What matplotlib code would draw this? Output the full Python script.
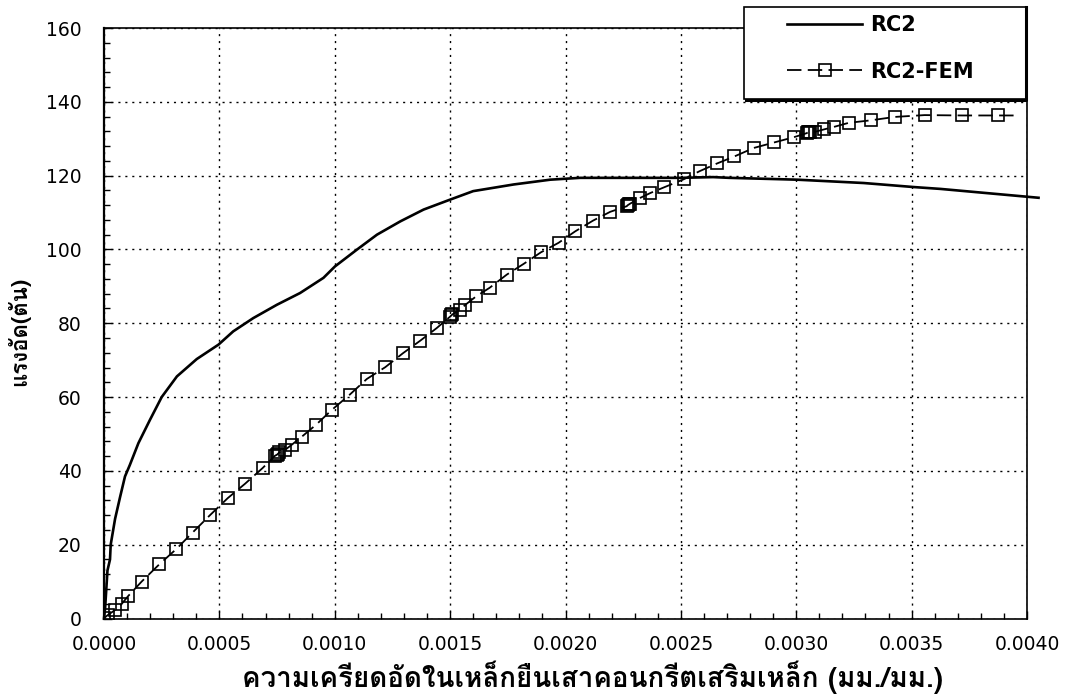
import matplotlib
matplotlib.use("Agg")
import matplotlib.pyplot as plt
from matplotlib import font_manager as fm
from matplotlib.ft2font import FT2Font
from matplotlib.ticker import MultipleLocator, FormatStrFormatter
from matplotlib.patches import Rectangle
from matplotlib.lines import Line2D

# ---------------- data ----------------
rc2_strain = [0.0, 0.000005, 0.00001, 0.000015, 0.000026, 0.000029, 0.000048, 0.00007,
              0.000091, 0.000112, 0.000149, 0.000199, 0.000250, 0.000316, 0.000402,
              0.000496, 0.00056, 0.000647, 0.000749, 0.00085, 0.000951, 0.001001,
              0.001095, 0.001183, 0.001284, 0.001385, 0.0015, 0.0016, 0.001775,
              0.001934, 0.002063, 0.0025, 0.00264, 0.00271, 0.003004, 0.003292,
              0.00351, 0.003625, 0.00405]
rc2_load = [0, 3, 8, 13, 16, 20, 27, 33,
            38.5, 41.6, 47.5, 53.8, 60.0, 65.6, 70.3,
            74.2, 77.8, 81.4, 85.0, 88.2, 92.3, 95.4,
            99.9, 104.0, 107.6, 110.8, 113.5, 115.8, 117.6,
            118.9, 119.4, 119.4, 119.6, 119.4, 118.9, 118.0,
            116.9, 116.4, 114.0]

fem_strain = [0.0, 0.000018, 0.000048, 0.000076, 0.000105, 0.000163, 0.00024, 0.000313,
              0.000384, 0.000461, 0.000536, 0.000611, 0.000688, 0.000741, 0.00075,
              0.000755, 0.00076, 0.000785, 0.000814, 0.000858, 0.000919, 0.000987,
              0.001064, 0.001139, 0.001219, 0.001296, 0.001371, 0.001442, 0.0015,
              0.001505, 0.00151, 0.001544, 0.001566, 0.001613, 0.001671, 0.001746,
              0.001819, 0.001893, 0.00197, 0.002042, 0.002119, 0.002194, 0.002265,
              0.00227, 0.002275, 0.00228, 0.002325, 0.002368, 0.002426, 0.002512,
              0.002581, 0.002657, 0.002732, 0.002816, 0.002905, 0.002989, 0.003045,
              0.00305, 0.003055, 0.00306, 0.003083, 0.003119, 0.003163, 0.003227,
              0.003325, 0.003426, 0.003556, 0.00372, 0.003875, 0.00396]
fem_load = [0.1, 1.0, 2.3, 3.9, 6.1, 10.0, 14.7, 18.8,
            23.3, 28.1, 32.6, 36.5, 40.8, 44.1, 44.4,
            44.7, 45.0, 45.7, 47.1, 49.3, 52.5, 56.5,
            60.6, 64.9, 68.1, 71.9, 75.3, 78.7, 81.8,
            82.1, 82.4, 83.7, 85.0, 87.3, 89.6, 93.2,
            96.1, 99.2, 101.8, 104.9, 107.8, 110.2, 111.7,
            112.0, 112.2, 112.4, 114.0, 115.3, 116.8, 119.0,
            121.2, 123.3, 125.2, 127.5, 129.0, 130.4, 131.5,
            131.7, 131.8, 131.9, 131.9, 132.5, 133.2, 134.3,
            135.0, 135.9, 136.4, 136.3, 136.3, 136.3]

series_labels = ["RC2", "RC2-FEM"]
x_label = "ความเครียดอัดในเหล็กยืนเสาคอนกรีตเสริมเหล็ก (มม./มม.)"
y_label = "แรงอัด(ตัน)"

# ---------------- fonts ----------------
def find_thai_family():
    fams = {}
    for f in fm.fontManager.ttflist:
        try:
            cm = FT2Font(f.fname).get_charmap()
        except Exception:
            continue
        if 0x0E04 in cm and 0x0E22 in cm:
            w = f.weight if isinstance(f.weight, int) else (700 if "bold" in str(f.weight) else 400)
            fams[f.name] = fams.get(f.name, False) or w >= 600
    looped = ["Noto Sans Thai Looped", "Loma", "Garuda", "Waree", "Umpush", "Tlwg Typo"]
    others = ["Noto Sans Thai", "Noto Sans Thai UI"]
    for p in looped:
        if fams.get(p):
            return p
    for p in others:
        if fams.get(p):
            return p
    for p, b in fams.items():
        if b:
            return p
    for p in looped + others:
        if p in fams:
            return p
    return next(iter(fams)) if fams else None

thai = find_thai_family()
thai_fam = [thai, "DejaVu Sans"] if thai else ["DejaVu Sans"]
plt.rcParams["font.family"] = ["DejaVu Sans"]

W, H = 1066, 699
fig = plt.figure(figsize=(W / 100, H / 100), dpi=100)
ax = fig.add_axes([104 / W, 1 - 618.5 / H, (1027 - 104) / W, (618.5 - 28) / H])

ax.plot(rc2_strain, rc2_load, color="black", lw=1.9, clip_on=False, zorder=3,
        label=series_labels[0])
ax.plot(fem_strain, fem_load, color="black", lw=1.3, ls=(0, (8, 3.5)), marker="s",
        markersize=8.5, markerfacecolor="none", markeredgecolor="black",
        markeredgewidth=1.2, markevery=list(range(len(fem_strain) - 1)),
        zorder=3, label=series_labels[1])

ax.set_xlim(0, 0.004)
ax.set_ylim(0, 160)
ax.xaxis.set_major_locator(MultipleLocator(0.0005))
ax.xaxis.set_minor_locator(MultipleLocator(0.0001))
ax.yaxis.set_major_locator(MultipleLocator(20))
ax.yaxis.set_minor_locator(MultipleLocator(4))
ax.xaxis.set_major_formatter(FormatStrFormatter("%.4f"))
ax.grid(True, which="major", color="black", ls=(0, (1.5, 3.5)), lw=1.0)
ax.tick_params(axis="both", which="both", direction="in", labelsize=13.5,
               color="black", width=1)
ax.tick_params(axis="both", which="major", length=6)
ax.tick_params(axis="both", which="minor", length=4)
ax.tick_params(axis="y", which="both", pad=16, right=False)
ax.tick_params(axis="x", which="both", pad=12, top=False)
for s in ax.spines.values():
    s.set_color("black")
    s.set_linewidth(1.2)
ax.spines["left"].set_linewidth(1.6)

fig.text(593 / W, 1 - 677 / H, x_label, ha="center", va="center",
         fontsize=20, fontweight="bold", family=thai_fam)
fig.text(19 / W, 1 - 331 / H, y_label, ha="center", va="center", rotation=90,
         fontsize=16, fontweight="bold", family=thai_fam)

# legend box
x0, x1, y0, y1 = 744, 1026, 7, 99
box = Rectangle((x0 / W, 1 - y1 / H), (x1 - x0) / W, (y1 - y0) / H,
                transform=fig.transFigure, facecolor="white", edgecolor="black",
                lw=1.2, zorder=5)
fig.patches.append(box)
fig.add_artist(Line2D([(x0 + 2) / W, x1 / W, x1 / W], [1 - (y1 + 1) / H, 1 - (y1 + 1) / H, 1 - y0 / H],
                      transform=fig.transFigure, color="black", lw=2.2, zorder=6))
handles, labels = ax.get_legend_handles_labels()
leg = fig.legend(handles, labels, loc="center left",
                 bbox_to_anchor=(787 / W, 1 - 48.5 / H),
                 frameon=False, prop={"weight": "bold", "size": 15}, handlelength=3.6,
                 labelspacing=1.25, handletextpad=0.37, borderpad=0, borderaxespad=0)
leg.set_zorder(7)

fig.savefig("out.png", dpi=100)
